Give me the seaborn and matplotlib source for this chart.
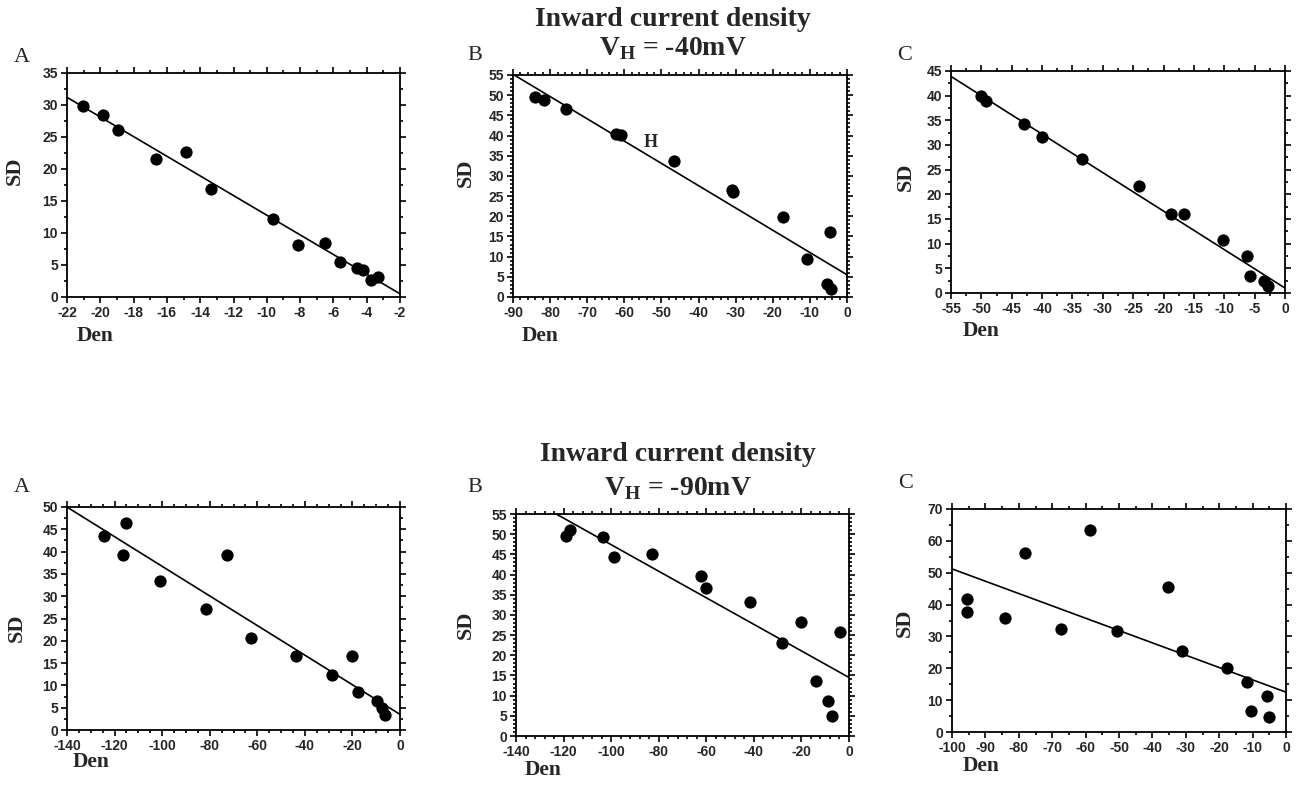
import numpy as np
import pandas as pd
import matplotlib
matplotlib.use("Agg")
import matplotlib.pyplot as plt
from matplotlib.ticker import MultipleLocator
import seaborn as sns

# ---- data: inward current density (Den) vs SD ----
# holding potential -40 mV
den_40a = [-21.04, -19.84, -18.96, -16.68, -14.84, -13.34, -9.6, -8.1, -6.5, -5.58, -4.6, -4.2, -3.76, -3.34]
sd_40a = [29.8, 28.4, 26.1, 21.6, 22.7, 16.9, 12.2, 8.2, 8.4, 5.4, 4.5, 4.2, 2.7, 3.2]

den_40b = [-84.2, -81.6, -75.8, -62.2, -60.9, -46.7, -30.9, -30.6, -17.2, -10.9, -4.6, -5.3, -4.2]
sd_40b = [49.6, 48.8, 46.7, 40.4, 40.2, 33.6, 26.6, 26.0, 19.9, 9.4, 16.0, 3.1, 2.0]

den_40c = [-50.06, -49.3, -42.9, -40.0, -33.4, -24.0, -18.8, -16.7, -10.2, -6.2, -5.7, -3.5, -2.8]
sd_40c = [39.9, 38.9, 34.2, 31.6, 27.2, 21.6, 16.0, 16.0, 10.8, 7.4, 3.4, 2.5, 1.5]

# holding potential -90 mV
den_90a = [-124.5, -115.1, -116.6, -100.7, -81.6, -72.9, -62.6, -43.8, -28.4, -20.0, -17.5, -9.7, -7.4, -6.3]
sd_90a = [43.6, 46.4, 39.3, 33.3, 27.1, 39.3, 20.7, 16.7, 12.3, 16.5, 8.6, 6.6, 4.9, 3.4]

den_90b = [-119.0, -117.2, -103.3, -98.9, -82.7, -62.3, -60.1, -41.6, -28.0, -20.0, -3.6, -14.0, -9.0, -7.0]
sd_90b = [49.5, 51.1, 49.3, 44.4, 45.1, 39.6, 36.7, 33.3, 23.0, 28.3, 25.8, 13.6, 8.75, 5.0]

den_90c = [-95.4, -95.4, -84.2, -78.1, -67.3, -58.6, -50.6, -35.2, -31.1, -17.6, -11.8, -10.4, -5.8, -5.2]
sd_90c = [41.9, 37.8, 35.7, 56.1, 32.4, 63.3, 31.6, 45.4, 25.5, 20.1, 15.6, 6.7, 11.3, 4.7]

# fitted regression lines (intercept, slope)
fit_intercepts = [-2.57, 5.5, 1.0, 3.5, 14.5, 12.5]
fit_slopes = [-1.535, -0.552, -0.78, -0.332, -0.329, -0.387]

# axis ranges and tick steps
x_limits = [(-22, -2), (-90, 0), (-55, 0), (-140, 0), (-140, 0), (-100, 0)]
y_limits = [(0, 35), (0, 55), (0, 45), (0, 50), (0, 55), (0, 70)]
x_major = [2, 10, 5, 20, 20, 10]
x_minor = [1, 2, 2.5, 5, 4, 5]
y_major = [5, 5, 5, 5, 5, 10]
y_minor = [2.5, 1, 2.5, 2.5, 1, 5]

panel_letters = ["A", "B", "C", "A", "B", "C"]
titles = ["Inward current density", "Inward current density"]
holding = ["-40mV", "-90mV"]

datasets = [(den_40a, sd_40a), (den_40b, sd_40b), (den_40c, sd_40c),
            (den_90a, sd_90a), (den_90b, sd_90b), (den_90c, sd_90c)]

# ---- figure ----
W, H = 1300, 785
sns.set_style("ticks")
plt.rcParams["font.family"] = ["Liberation Sans", "DejaVu Sans"]
plt.rcParams["axes.unicode_minus"] = False
plt.rcParams["mathtext.fontset"] = "custom"
plt.rcParams["mathtext.rm"] = "Liberation Serif"
plt.rcParams["mathtext.bf"] = "Liberation Serif:bold"

fig = plt.figure(figsize=(W / 100, H / 100), dpi=100)
fig.patch.set_facecolor("white")

# axes boxes in pixels: left, top, right, bottom
boxes = [(67, 73, 400, 297), (513, 75, 847, 297), (951, 71, 1285, 293),
         (67, 507, 400, 730), (516, 514, 849, 736), (952, 509, 1286, 732)]
letter_pos = [(14, 57), (467, 55), (897, 55), (14, 487), (467, 488), (898, 483)]
den_pos = [(77, 336), (522, 336), (963, 331), (73, 762), (525, 770), (963, 766)]
sd_pos = [(15, 171), (466, 173), (906, 177), (17, 628), (466, 625), (905, 623)]
# title centre x, baseline of first line, baseline of second line
title_pos = [(673, 26, 55), (678, 461, 495)]

serif = ["Liberation Serif", "DejaVu Serif"]

def fx(px):
    return px / W

def fy(py):
    return 1 - py / H

for i, ((den, sd), box) in enumerate(zip(datasets, boxes)):
    l, t, r, b = box
    ax = fig.add_axes([fx(l), fy(b), (r - l) / W, (b - t) / H])
    df = pd.DataFrame({"Den": den, "SD": sd})
    sns.scatterplot(data=df, x="Den", y="SD", ax=ax, color="black", s=78,
                    linewidth=0, zorder=3, clip_on=False)
    xs = np.array(x_limits[i], dtype=float)
    ax.plot(xs, fit_intercepts[i] + fit_slopes[i] * xs, color="black", lw=1.2, zorder=2)
    ax.set_xlim(*x_limits[i])
    ax.set_ylim(*y_limits[i])
    ax.xaxis.set_major_locator(MultipleLocator(x_major[i]))
    ax.xaxis.set_minor_locator(MultipleLocator(x_minor[i]))
    ax.yaxis.set_major_locator(MultipleLocator(y_major[i]))
    ax.yaxis.set_minor_locator(MultipleLocator(y_minor[i]))
    ax.tick_params(which="both", direction="out", top=True, right=True,
                   color="black", width=1.2)
    ax.tick_params(which="major", length=4.5, labelsize=10, pad=2)
    ax.tick_params(which="minor", length=2.5)
    for lab in ax.get_xticklabels() + ax.get_yticklabels():
        lab.set_fontweight("bold")
    for sp in ax.spines.values():
        sp.set_visible(True)
        sp.set_linewidth(1.3)
        sp.set_color("black")
    ax.set_xlabel("")
    ax.set_ylabel("")

    fig.text(fx(letter_pos[i][0]), fy(letter_pos[i][1]), panel_letters[i],
             family=serif, fontsize=16, ha="left", va="center")
    fig.text(fx(den_pos[i][0]), fy(den_pos[i][1]), "Den", family=serif,
             fontsize=15.5, fontweight="bold", ha="left", va="center")
    fig.text(fx(sd_pos[i][0]), fy(sd_pos[i][1]), "SD", family=serif,
             fontsize=16, fontweight="bold", ha="center", va="center",
             rotation=90)
    if i == 1:
        ax.text(-53, 38.2, "H", family=serif, fontsize=13, fontweight="bold",
                ha="center", va="center")

for k, (cx, y1, y2) in enumerate(title_pos):
    fig.text(fx(cx), fy(y1), titles[k], family=serif, fontsize=20,
             fontweight="bold", ha="center", va="baseline")
    fig.text(fx(cx), fy(y2), r"$\mathbf{V}_{\mathbf{H}}$" + " = " + holding[k],
             family=serif, fontsize=20, fontweight="bold", ha="center", va="baseline")

fig.savefig("out.png", dpi=100, facecolor="white")
